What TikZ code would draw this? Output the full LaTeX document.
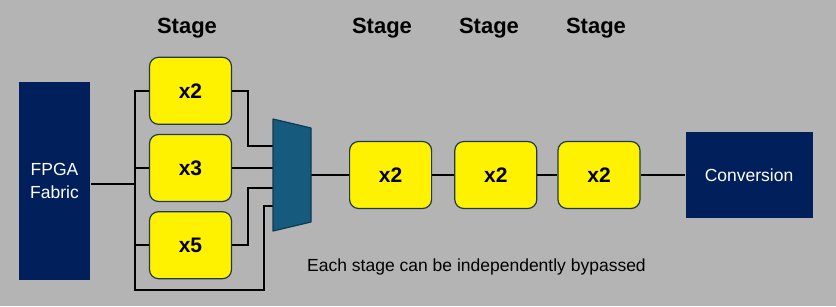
\documentclass[tikz,border=0pt]{standalone}
\usepackage{fontspec}
\setmainfont{Liberation Sans}
\usetikzlibrary{positioning}
\definecolor{bggray}{HTML}{B4B4B4}
\definecolor{navy}{HTML}{001F5B}
\definecolor{boxedge}{HTML}{1F3A4D}
\definecolor{muxfill}{HTML}{165B7D}
\definecolor{muxedge}{HTML}{0E3A52}

\begin{document}
\begin{tikzpicture}[
            x=1pt, y=-1pt,
            node distance=9pt and 21pt,
            mult/.style={draw=boxedge, line width=1.2pt, rounded corners=9pt, fill=yellow, minimum width=82pt, minimum height=67pt, font=\fontsize{21}{24}\selectfont\bfseries},
            darkbox/.style={fill=navy, text=white, align=center, font=\fontsize{17.5}{22.5}\selectfont},
            stagelbl/.style={font=\fontsize{22}{26}\selectfont\bfseries},
            line width=2pt
        ]
            \fill[bggray] (0,0) rectangle (836,306);

            \node[darkbox, minimum width=71pt, minimum height=198pt] (fpga) at (54.5,181) {FPGA\\Fabric};
            \node[mult] (mulB) at (190.5,168) {x3};
            \node[mult, above=of mulB] (mulA) {x2};
            \node[mult, below=of mulB] (mulC) {x5};
            \node[minimum width=38pt, minimum height=112pt, inner sep=0pt, outer sep=0pt] (mux) at (292,175) {};
            \node[mult, right=38pt of mux] (dblA) {x2};
            \node[mult, right=22pt of dblA] (dblB) {x2};
            \node[mult, right=20pt of dblB] (dblC) {x2};
            \node[darkbox, minimum width=127pt, minimum height=86pt, right=44pt of dblC] (conv) {Conversion};

            \node[stagelbl] (lblA) at (187,28) {Stage};
            \node[stagelbl] (lblB) at (382,28) {Stage};
            \node[stagelbl] (lblC) at (489,28) {Stage};
            \node[stagelbl] (lblD) at (596,28) {Stage};
            \node[font=\fontsize{17.5}{21}\selectfont] (note) at (476.5,267) {Each stage can be independently bypassed};

            \coordinate (fpgaOut) at ([yshift=-3pt]fpga.east);
            \coordinate (busT) at (135,91);
            \coordinate (busB) at (135,290);
            \coordinate (bypB) at (264,290);
            \coordinate (inA) at ([yshift=29pt]mux.west);
            \coordinate (inC) at ([yshift=-13pt]mux.west);
            \coordinate (inD) at ([yshift=-31pt]mux.west);

            \draw (fpgaOut) -- (fpgaOut -| busT);
            \draw (mulA.west) -| (busB) -- (bypB) |- (inD);
            \draw (mulB.west) -- (mulB.west -| busT);
            \draw (mulC.west) -- (mulC.west -| busT);
            \draw (mulA.east) -- ++(16,0) |- (inA);
            \draw (mulB.east) -- (mulB.east -| mux.west);
            \draw (mulC.east) -- ++(16,0) |- (inC);
            \draw (mux.east) -- (dblA);
            \draw (dblA) -- (dblB);
            \draw (dblB) -- (dblC);
            \draw (dblC) -- (conv);

            \draw[fill=muxfill, draw=muxedge, line width=1.2pt, line join=round] (mux.north west) -- ([yshift=-9pt]mux.north east) -- ([yshift=9pt]mux.south east) -- (mux.south west) -- cycle;
        \end{tikzpicture}
\end{document}
